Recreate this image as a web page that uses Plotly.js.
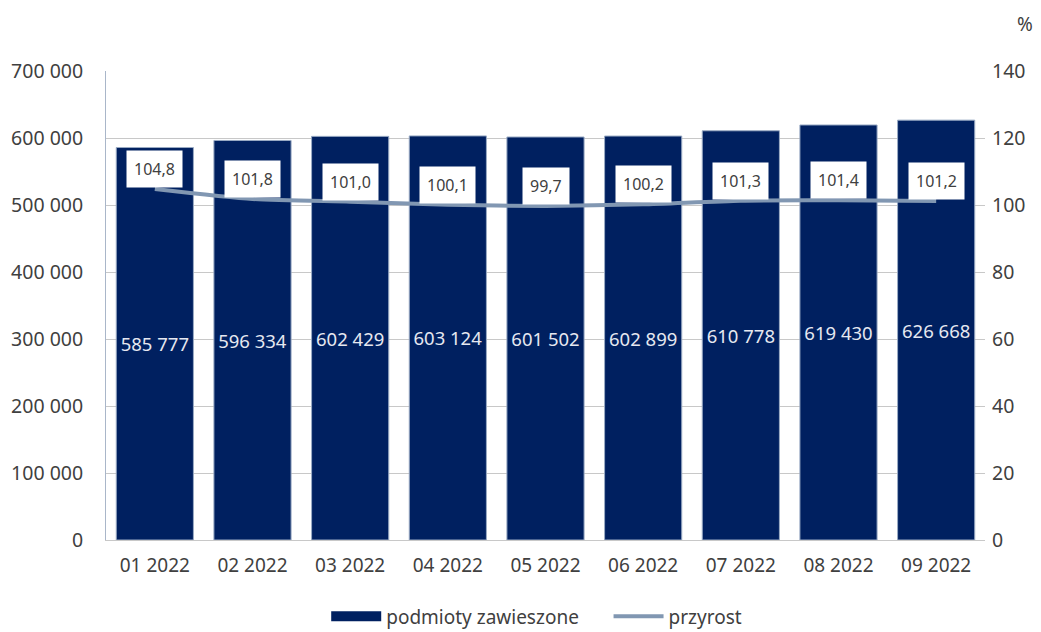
<!DOCTYPE html>
<html><head><meta charset="utf-8">
<script src="https://cdn.plot.ly/plotly-3.0.1.min.js"></script>
<style>html,body{margin:0;padding:0;background:#fff}#chart{width:1041px;height:632px}</style>
</head><body><div id="chart"></div>
<script>
const categories = ["01 2022","02 2022","03 2022","04 2022","05 2022","06 2022","07 2022","08 2022","09 2022"];
const podmioty = [585777,596334,602429,603124,601502,602899,610778,619430,626668];
const przyrost = [104.8,101.8,101.0,100.1,99.7,100.2,101.3,101.4,101.2];
const leftTicks = [0,100000,200000,300000,400000,500000,600000,700000];
const rightTicks = [0,20,40,60,80,100,120,140];
const seriesNames = ["podmioty zawieszone", "przyrost"];

const fmtSpace = v => String(v).replace(/\B(?=(\d{3})+(?!\d))/g, " ");
const fmtComma = v => v.toFixed(1).replace(".", ",");
const FONT = "Noto Sans, sans-serif";
const TXT = "#404040";
const GAP = "\u00a0\u00a0\u00a0\u00a0\u00a0";

const traces = [
  {
    type: "bar", name: seriesNames[0], x: categories, y: podmioty, showlegend: false,
    marker: {color: "#002060", line: {color: "#9aabc4", width: 1}},
    text: podmioty.map(fmtSpace), textposition: "inside", insidetextanchor: "middle",
    textfont: {color: "#e6e8f0", size: 18.5, family: FONT}, textangle: 0,
    hoverinfo: "skip"
  },
  {
    type: "scatter", mode: "lines", name: seriesNames[0] + GAP, x: [categories[0]], y: [null], yaxis: "y2",
    line: {color: "#002060", width: 11}, hoverinfo: "skip"
  },
  {
    type: "scatter", mode: "lines", name: seriesNames[1], x: categories, y: przyrost, yaxis: "y2",
    line: {color: "#8197b2", width: 4, shape: "spline", smoothing: 0.6},
    hoverinfo: "skip"
  }
];

const annotations = przyrost.map((v, i) => ({
  x: categories[i], y: v, xref: "x", yref: "y2", text: fmtComma(v), showarrow: false,
  yshift: 20, bgcolor: "#ffffff", borderpad: 7, font: {family: FONT, size: 16, color: TXT}
}));
annotations.push({
  xref: "paper", yref: "paper", x: 1.046, y: 1.1, text: "%", showarrow: false,
  xanchor: "center", yanchor: "middle", font: {family: FONT, size: 19, color: TXT}
});

const layout = {
  width: 1041, height: 632,
  margin: {l: 106, r: 56, t: 71, b: 92, autoexpand: false},
  paper_bgcolor: "#fff", plot_bgcolor: "#fff",
  font: {family: FONT, size: 19, color: TXT},
  bargap: 0.21,
  showlegend: true,
  legend: {orientation: "h", x: 0.49, xanchor: "center", y: -0.163, yanchor: "middle",
    font: {family: FONT, size: 19, color: TXT}, traceorder: "normal", itemwidth: 50},
  xaxis: {type: "category", showgrid: false, showline: true, linecolor: "#c8c8c8", linewidth: 1,
    ticks: "", ticklabelstandoff: 8, tickfont: {family: FONT, size: 19, color: TXT}, fixedrange: true},
  yaxis: {range: [0, 700000], tickvals: leftTicks, ticktext: leftTicks.map(fmtSpace),
    showgrid: true, gridcolor: "#c8c8c8", gridwidth: 1, zeroline: false,
    showline: true, linecolor: "#a9b6c9", linewidth: 1, ticks: "", ticklabelstandoff: 18,
    tickfont: {family: FONT, size: 19.5, color: TXT}},
  yaxis2: {range: [0, 140], tickvals: rightTicks, overlaying: "y", side: "right",
    showgrid: false, zeroline: false, showline: false, ticks: "", ticklabelstandoff: 6,
    tickfont: {family: FONT, size: 19.5, color: TXT}},
  annotations: annotations
};

Plotly.newPlot("chart", traces, layout, {displayModeBar: false, staticPlot: true});
</script>
</body></html>
